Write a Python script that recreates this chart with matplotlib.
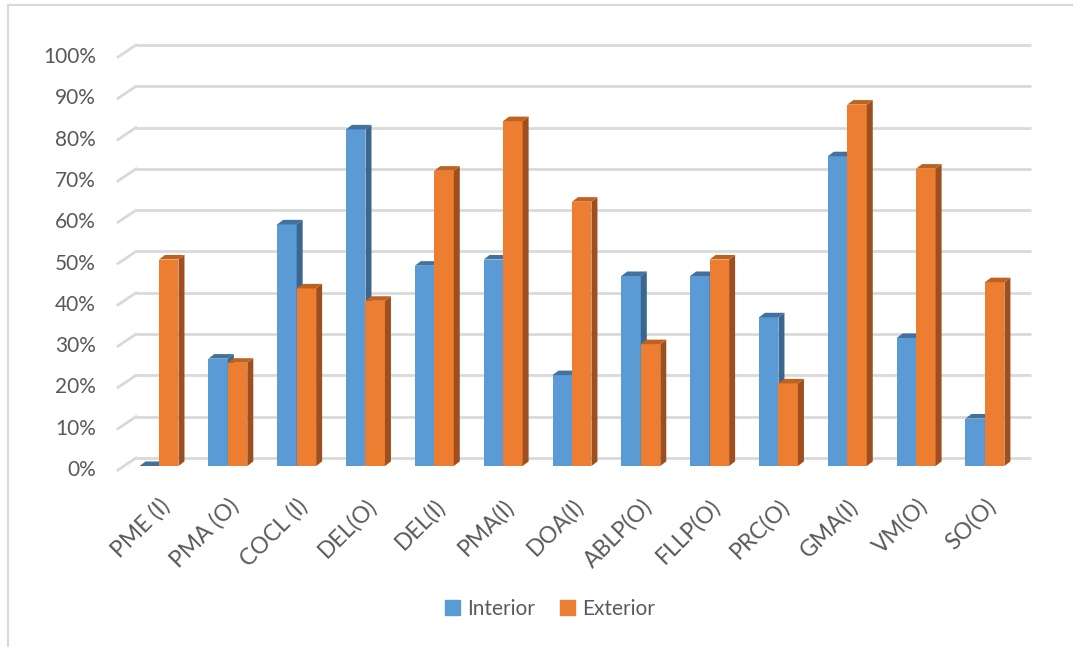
import matplotlib.pyplot as plt
from matplotlib.patches import Polygon, Patch
from matplotlib.lines import Line2D
import numpy as np

categories = ['PME (I)', 'PMA (O)', 'COCL (I)', 'DEL(O)', 'DEL(I)', 'PMA(I)', 'DOA(I)',
              'ABLP(O)', 'FLLP(O)', 'PRC(O)', 'GMA(I)', 'VM(O)', 'SO(O)']
interior = [0, 26, 58.5, 81.5, 48.5, 50, 22, 46, 46, 36, 75, 31, 11.5]
exterior = [50, 25, 43, 40, 71.5, 83.5, 64, 29.5, 50, 20, 87.5, 72, 44.5]
yticks = list(range(0, 101, 10))

plt.rcParams['font.family'] = ['Lato', 'DejaVu Sans']
txt = '#595959'
grid_c = '#D9D9D9'

fig = plt.figure(figsize=(10.73, 6.47), dpi=100)
ax = fig.add_axes([0, 0, 1, 1])
# pixel mapping: category i centre at 159 + 68.83*i, 0% at y=466, 4.13 px per %
x0, step = 159.0, 68.83
ax.set_xlim((0 - x0) / step, (1073 - x0) / step)
ax.set_ylim((466 - 647) / 4.13, 466 / 4.13)
ax.axis('off')

# 3d offsets
fx, fy = (118 - x0) / step, -0.97     # front edge of the wall
bx, by = (136 - x0) / step, 1.94      # back wall
right = (1031 - x0) / step
for v in yticks:
    ax.plot([bx, right], [v + by, v + by], color=grid_c, lw=2, solid_capstyle='butt', zorder=1)
    ax.plot([fx, bx], [v + fy, v + by], color=grid_c, lw=2, zorder=1)
    ax.text((96 - x0) / step, v + fy, f'{v}%', ha='right', va='center', fontsize=15, color=txt)

w = 0.283
dx, dy = 0.087, 1.1
x = np.arange(len(categories))

def bar3d(xs, vals, face, side, top):
    ax.bar(xs, vals, width=w, color=face, align='edge', zorder=3)
    for xi, v in zip(xs, vals):
        ax.add_patch(Polygon([(xi + w, 0), (xi + w + dx, dy), (xi + w + dx, v + dy), (xi + w, v)],
                             closed=True, facecolor=side, edgecolor='none', zorder=3))
        ax.add_patch(Polygon([(xi, v), (xi + dx, v + dy), (xi + w + dx, v + dy), (xi + w, v)],
                             closed=True, facecolor=top, edgecolor='none', zorder=3))

bar3d(x - w, interior, '#5B9BD5', '#3B6690', '#41719C')
bar3d(x, exterior, '#ED7D31', '#9E4F1D', '#C0621F')

for xi, lab in zip(x, categories):
    ax.text(xi + 0.0, -7.0, lab, rotation=45, rotation_mode='anchor', ha='right', va='top',
            fontsize=16.5, color=txt)

handles = [Patch(color='#5B9BD5'), Patch(color='#ED7D31')]
fig.legend(handles, ['Interior', 'Exterior'], loc='center', bbox_to_anchor=(550 / 1073, 1 - 609 / 647),
           ncol=2, frameon=False, fontsize=15, handlelength=0.7, handleheight=0.7,
           handletextpad=0.35, columnspacing=1.2, labelcolor=txt)

fig.add_artist(Line2D([8 / 1073, 8 / 1073], [0, 1 - 5 / 647], color=grid_c, lw=1.5))
fig.add_artist(Line2D([8 / 1073, 1], [1 - 5 / 647, 1 - 5 / 647], color=grid_c, lw=1.5))

fig.savefig('out.png', dpi=100)
